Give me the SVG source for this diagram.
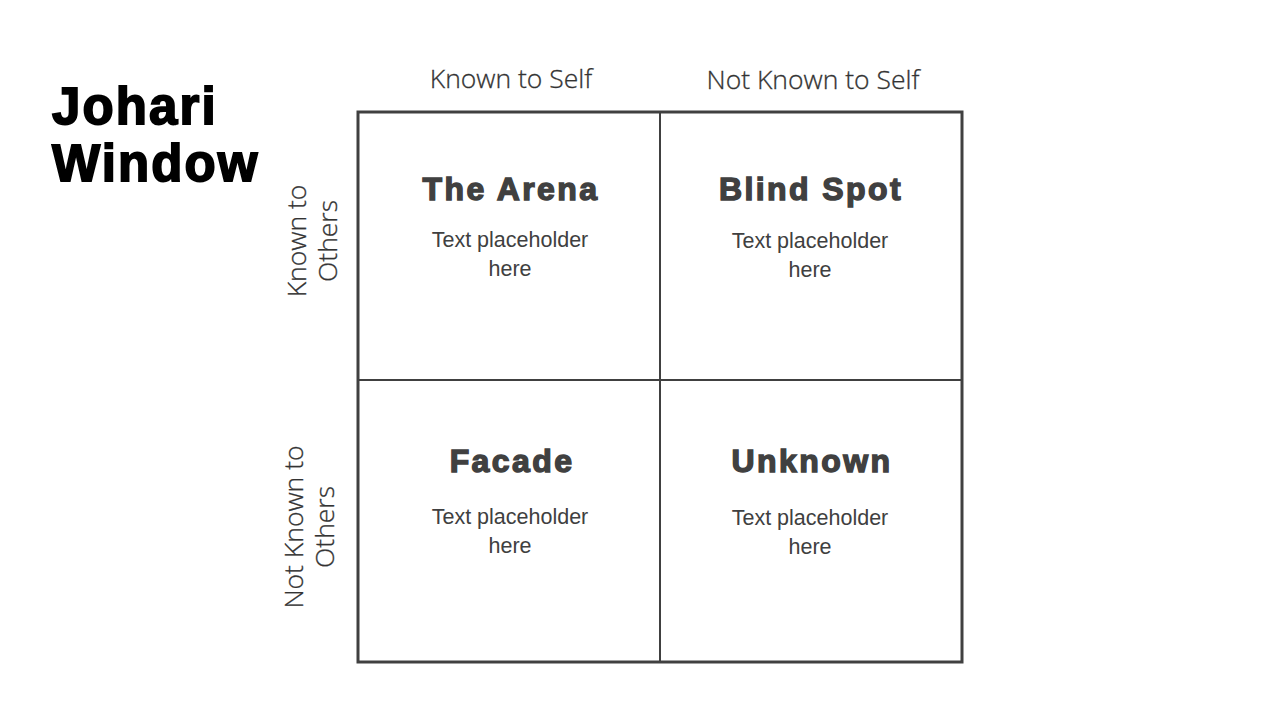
<svg xmlns="http://www.w3.org/2000/svg" width="1280" height="720" viewBox="0 0 1280 720">
<style>
.title{font-family:"Liberation Sans",Arial,sans-serif;font-weight:bold;font-size:51px;letter-spacing:2.1px;fill:#000;stroke:#000;stroke-width:1.8px}
.head{font-family:"Liberation Sans",Arial,sans-serif;font-weight:bold;font-size:32px;letter-spacing:2.4px;fill:#404040;stroke:#404040;stroke-width:1.4px;text-anchor:middle}
.body{font-family:"Liberation Sans",Arial,sans-serif;font-size:21.5px;fill:#404040;text-anchor:middle}
.axis{font-family:"Open Sans","Noto Sans",sans-serif;font-weight:300;font-size:26.5px;fill:#333;stroke:#333;stroke-width:0.3px;text-anchor:middle}
.outer{fill:none;stroke:#404040;stroke-width:3}
.inner{stroke:#404040;stroke-width:2}
</style>
<rect width="1280" height="720" fill="#fff"/>
<g id="title">
<text class="title" x="52" y="124">Johari</text>
<text class="title" x="52" y="181">Window</text>
</g>
<g id="axis-labels">
<text class="axis" x="511" y="88">Known to Self</text>
<text class="axis" x="813" y="89">Not Known to Self</text>
<text class="axis" transform="translate(306,241) rotate(-90)">Known to</text>
<text class="axis" transform="translate(337,241) rotate(-90)">Others</text>
<text class="axis" transform="translate(303,527) rotate(-90)">Not Known to</text>
<text class="axis" transform="translate(334,527) rotate(-90)">Others</text>
</g>
<g id="grid">
<line class="inner" x1="660" y1="112" x2="660" y2="662"/>
<line class="inner" x1="358" y1="380" x2="962" y2="380"/>
<rect class="outer" x="358" y="112" width="604" height="550"/>
</g>
<g id="arena">
<text class="head" x="511" y="200">The Arena</text>
<text class="body" x="510" y="247">Text placeholder</text>
<text class="body" x="510" y="276">here</text>
</g>
<g id="blind-spot">
<text class="head" x="811" y="200">Blind Spot</text>
<text class="body" x="810" y="248">Text placeholder</text>
<text class="body" x="810" y="277">here</text>
</g>
<g id="facade">
<text class="head" x="512" y="472">Facade</text>
<text class="body" x="510" y="524">Text placeholder</text>
<text class="body" x="510" y="553">here</text>
</g>
<g id="unknown">
<text class="head" x="812" y="472">Unknown</text>
<text class="body" x="810" y="525">Text placeholder</text>
<text class="body" x="810" y="554">here</text>
</g>
</svg>
